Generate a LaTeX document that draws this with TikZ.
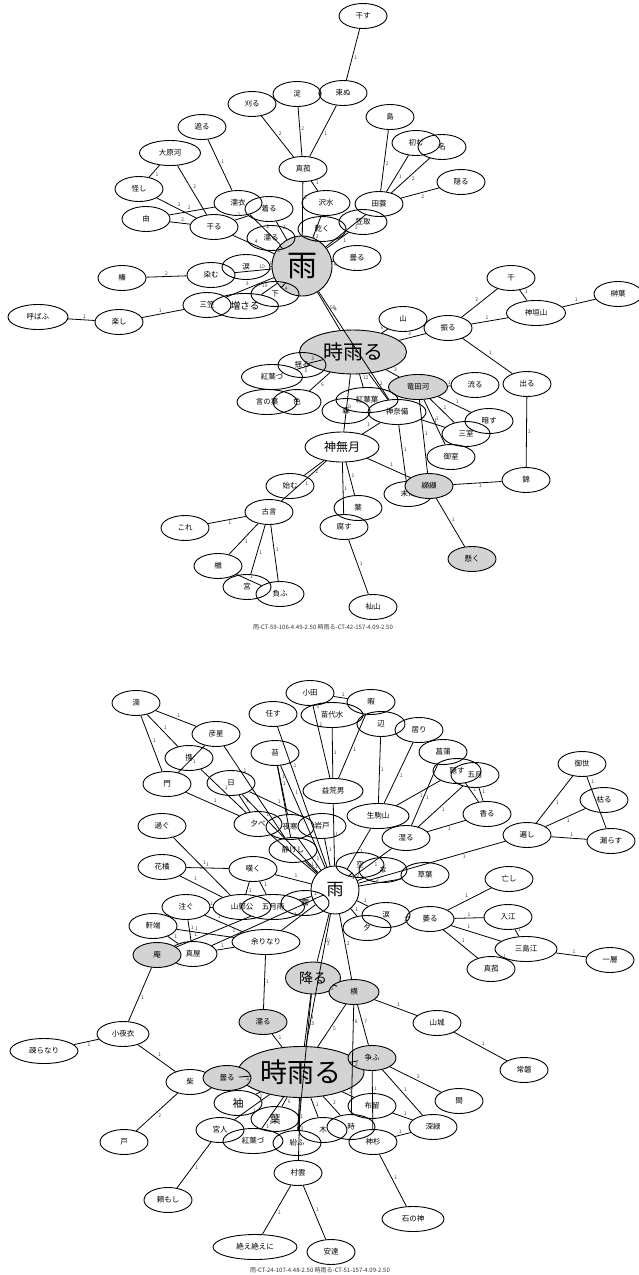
\documentclass[tikz,border=0pt]{standalone}
\usepackage{fontspec}
\setmainfont{Noto Sans CJK JP}
\usetikzlibrary{shapes.geometric}
\definecolor{nodegray}{RGB}{211,211,211}
\tikzset{
 nd/.style={ellipse, draw, line width=0.9pt, minimum width=48pt, minimum height=25pt, inner sep=0.5pt, font=\fontsize{7.5}{8}\selectfont},
 gr/.style={nd, fill=nodegray},
 edge/.style={line width=0.8pt},
 lab/.style={font=\fontsize{5}{5}\selectfont, text=black!75, inner sep=1pt, auto},
 captxt/.style={font=\fontsize{6}{6}\selectfont, text=black!80},
}
\newcommand\lk[4][0.5]{\draw[edge] (#2) -- node[lab,pos=#1]{#4} (#3);}
\begin{document}
\begin{tikzpicture}[x=1pt,y=-1pt]
\useasboundingbox[fill=white] (0,0) rectangle (639,1275);
% ---------------- top graph ----------------
\node[gr, circle, minimum size=60pt, font=\fontsize{30}{30}\selectfont] (ame) at (302,266) {雨};
\node[gr, minimum width=107pt, minimum height=44pt, font=\fontsize{20}{20}\selectfont] (shigure) at (353,352) {時雨る};
\node[nd] (hosu) at (363,16) {干す};
\node[nd] (tsukanu) at (343,93) {束ぬ};
\node[nd] (yodo) at (297,94) {淀};
\node[nd] (karu) at (252,104) {刈る};
\node[nd] (saegiru) at (202,127) {遮る};
\node[nd, minimum width=61pt] (oharagawa) at (170,153) {大原河};
\node[nd] (ayashi) at (139,189) {怪し};
\node[nd] (makomo) at (303,169) {真菰};
\node[nd] (nureginu) at (238,203) {濡衣};
\node[nd] (kiru) at (269,209) {着る};
\node[nd] (yoshi) at (146,219) {由};
\node[nd] (hiru) at (214,227) {干る};
\node[nd] (nuru) at (271,238) {濡る};
\node[nd] (sawamizu) at (326,203) {沢水};
\node[nd] (tamino) at (379,204) {田蓑};
\node[nd] (shima) at (390,117) {島};
\node[nd] (someru) at (416,143) {初む};
\node[nd] (na) at (442,147) {名};
\node[nd] (kakuru) at (461,182) {隠る};
\node[nd] (kasatori) at (363,222) {笠取};
\node[nd] (kawaku) at (322,229) {乾く};
\node[nd] (kumoru) at (357,258) {曇る};
\node[nd] (namida) at (246,267) {涙};
\node[nd] (somu) at (211,275) {染む};
\node[nd] (hari) at (122,278) {榛};
\node[nd] (shita) at (275,294) {下};
\node[nd, minimum width=67pt, font=\fontsize{9.5}{10}\selectfont] (masaru) at (245,306) {増さる};
\node[nd] (mikasa) at (207,305) {三笠};
\node[nd] (tanoshi) at (119,322) {楽し};
\node[nd, minimum width=60pt] (yobau) at (38,317) {呼ばふ};
\node[nd] (chi) at (511,278) {千};
\node[nd, minimum width=59pt] (kamigaki) at (536,313) {神垣山};
\node[nd] (sakaki) at (618,294) {榊葉};
\node[nd] (yama) at (403,319) {山};
\node[nd] (furu) at (448,328) {振る};
\node[nd] (izuru) at (527,384) {出る};
\node[gr, minimum width=59pt] (tatsuta) at (418,387) {竜田河};
\node[nd] (nagaru) at (475,385) {流る};
\node[nd, minimum width=62pt] (momijiba) at (367,400) {紅葉葉};
\node[nd, minimum width=58pt] (kannabi) at (397,412) {神奈備};
\node[nd] (kurasu) at (489,421) {暗す};
\node[nd] (mimuro) at (466,434) {三室};
\node[nd] (mimurob) at (451,457) {御室};
\node[nd] (nishiki) at (526,480) {錦};
\node[nd] (imada) at (408,494) {未だ};
\node[gr] (kokechi) at (429,486) {纐纈};
\node[gr] (kaku) at (472,559) {懸く};
\node[nd] (ha) at (358,508) {葉};
\node[nd] (kutasu) at (344,527) {腐す};
\node[nd] (soma) at (373,607) {杣山};
\node[nd, minimum width=74pt, minimum height=30pt, font=\fontsize{12}{12}\selectfont] (kannazuki) at (342,447) {神無月};
\node[nd] (mori) at (346,411) {森};
\node[nd] (yuru) at (302,365) {揺る};
\node[nd, minimum width=61pt] (momizu) at (272,377) {紅葉づ};
\node[nd, minimum width=60pt] (kotonoha) at (267,402) {言の葉};
\node[nd] (iro) at (297,402) {色};
\node[nd] (hajimu) at (290,486) {始む};
\node[nd] (furukoto) at (269,512) {古言};
\node[nd] (kore) at (185,528) {これ};
\node[nd] (nara) at (218,566) {楢};
\node[nd] (miya) at (247,587) {宮};
\node[nd] (ou) at (280,594) {負ふ};
\node[captxt] (cap1) at (323,627) {雨-CT-59-106-4.49-2.50 時雨る-CT-42-157-4.09-2.50};

\lk{hosu}{tsukanu}{1}
\lk{yodo}{tsukanu}{1}
\lk{tsukanu}{makomo}{1}
\lk{yodo}{makomo}{2}
\lk{karu}{makomo}{2}
\lk[0.3]{makomo}{ame}{2}
\lk{makomo}{sawamizu}{1}
\lk{saegiru}{nureginu}{1}
\lk{oharagawa}{ayashi}{1}
\lk{oharagawa}{hiru}{2}
\lk{ayashi}{hiru}{2}
\lk{yoshi}{nureginu}{2}
\lk{yoshi}{hiru}{2}
\lk{hiru}{kiru}{2}
\lk{hiru}{ame}{4}
\lk{nureginu}{ame}{2}
\lk{kiru}{ame}{3}
\lk{nuru}{ame}{3}
\lk[0.8]{sawamizu}{ame}{3}
\lk[0.8]{kawaku}{ame}{3}
\lk[0.3]{tamino}{ame}{2}
\lk[0.3]{kasatori}{ame}{1}
\lk{shima}{tamino}{2}
\lk{someru}{tamino}{1}
\lk{na}{tamino}{2}
\lk{kakuru}{tamino}{2}
\lk{kumoru}{ame}{4}
\lk[0.7]{namida}{ame}{6}
\lk[0.85]{somu}{ame}{10}
\lk{hari}{somu}{2}
\lk{shita}{ame}{4}
\lk{masaru}{ame}{10}
\lk{mikasa}{ame}{3}
\lk{tanoshi}{mikasa}{1}
\lk{yobau}{tanoshi}{1}
\lk{ame}{shigure}{58}
\lk[0.2]{ame}{kannabi}{4}
\lk{shigure}{yama}{6}
\lk{shigure}{furu}{3}
\lk{furu}{chi}{2}
\lk{furu}{kamigaki}{1}
\lk{chi}{kamigaki}{1}
\lk{kamigaki}{sakaki}{1}
\lk{furu}{izuru}{1}
\lk{izuru}{nishiki}{1}
\lk{nishiki}{kokechi}{1}
\lk{kokechi}{kaku}{1}
\lk{shigure}{tatsuta}{3}
\lk{tatsuta}{nagaru}{1}
\lk{tatsuta}{kurasu}{1}
\lk{tatsuta}{mimuro}{1}
\lk{tatsuta}{mimurob}{1}
\lk{tatsuta}{kokechi}{1}
\lk{kannabi}{mimuro}{1}
\lk{kannabi}{imada}{1}
\lk{kannazuki}{kokechi}{1}
\lk{kannazuki}{kannabi}{1}
\lk{kannazuki}{hajimu}{2}
\lk{kannazuki}{furukoto}{1}
\lk{kannazuki}{ha}{1}
\lk{kannazuki}{kutasu}{1}
\lk{kutasu}{soma}{1}
\lk{furukoto}{kore}{1}
\lk{furukoto}{nara}{1}
\lk{furukoto}{miya}{1}
\lk{furukoto}{ou}{1}
\lk{nara}{ou}{1}
\lk{shigure}{yuru}{3}
\lk{shigure}{momizu}{5}
\lk{shigure}{iro}{6}
\lk{shigure}{kannazuki}{9}
\lk{shigure}{momijiba}{12}
\lk{shigure}{kannabi}{2}

% ---------------- bottom graph ----------------
\node[nd, circle, minimum size=48pt, font=\fontsize{17}{17}\selectfont] (bame) at (335,890) {雨};
\node[gr, minimum width=126pt, minimum height=51pt, font=\fontsize{27}{27}\selectfont] (bshigure) at (301,1072) {時雨る};
\node[nd] (shizuku) at (136,703) {滴};
\node[nd] (hikoboshi) at (216,734) {彦星};
\node[nd] (tazusa) at (189,758) {携};
\node[nd] (kado) at (167,784) {門};
\node[nd] (hi) at (231,783) {日};
\node[nd] (sugu) at (162,826) {過ぐ};
\node[nd] (yuube) at (258,824) {夕べ};
\node[nd] (yosamu) at (290,827) {夜寒};
\node[nd] (iwato) at (322,826) {岩戸};
\node[nd] (shizukeshi) at (293,850) {静けし};
\node[nd] (makasu) at (273,714) {任す};
\node[nd] (oda) at (310,693) {小田};
\node[nd, minimum width=62pt] (nawashiro) at (332,715) {苗代水};
\node[nd] (itoma) at (371,702) {暇};
\node[nd] (hen) at (381,724) {辺};
\node[nd] (ori) at (419,730) {居り};
\node[nd] (ayame) at (443,752) {菖蒲};
\node[nd] (kakusu) at (457,771) {隠す};
\node[nd] (satsuki) at (475,775) {五月};
\node[nd] (miyo) at (582,764) {御世};
\node[nd] (karub) at (604,800) {枯る};
\node[nd] (morasu) at (611,841) {漏らす};
\node[nd] (amaneshi) at (527,835) {遍し};
\node[nd] (kaoru) at (487,814) {香る};
\node[nd] (shimeru) at (406,838) {湿る};
\node[nd, minimum width=62pt] (ikoma) at (378,816) {生駒山};
\node[nd, minimum width=60pt] (masurao) at (333,791) {益荒男};
\node[nd] (koke) at (275,753) {苔};
\node[nd] (hanatachi) at (162,867) {花橘};
\node[nd] (nageku) at (253,869) {嘆く};
\node[nd] (sosogu) at (186,907) {注ぐ};
\node[nd, minimum width=58pt] (hototogisu) at (242,907) {山郭公};
\node[nd, minimum width=63pt] (samidare) at (273,907) {五月雨};
\node[nd] (kiri) at (305,903) {霧};
\node[nd] (nokiba) at (153,926) {軒端};
\node[nd] (maya) at (193,954) {真屋};
\node[gr] (io) at (157,955) {庵};
\node[nd, minimum width=68pt] (amari) at (266,942) {余りなり};
\node[gr, minimum width=55pt, minimum height=32pt, font=\fontsize{14}{14}\selectfont] (furub) at (313,978) {降る};
\node[gr] (nurub) at (263,1022) {濡る};
\node[nd, minimum width=52pt] (sayogoromo) at (123,1034) {小夜衣};
\node[gr, minimum width=50pt] (yoko) at (354,992) {横};
\node[nd] (sora) at (360,865) {空};
\node[nd] (nana) at (383,870) {な};
\node[nd] (kusaba) at (425,875) {草葉};
\node[nd] (bnamida) at (386,915) {涙};
\node[nd] (yu) at (367,928) {夕};
\node[nd] (shioru) at (430,919) {萎る};
\node[nd] (nashi) at (509,879) {亡し};
\node[nd] (irie) at (508,917) {入江};
\node[nd, minimum width=62pt] (mishimae) at (526,949) {三島江};
\node[nd] (hitoshio) at (610,960) {一層};
\node[nd] (bmakomo) at (491,969) {真菰};
\node[nd] (yamashiro) at (437,1023) {山城};
\node[nd] (tokiwa) at (524,1070) {常磐};
\node[nd, minimum width=68pt] (mabara) at (44,1051) {疎らなり};
\node[nd] (shiba) at (190,1082) {柴};
\node[gr] (bkumoru) at (227,1078) {曇る};
\node[nd, font=\fontsize{11}{11}\selectfont] (sode) at (238,1103) {袖};
\node[nd, font=\fontsize{11}{11}\selectfont] (bha) at (275,1119) {葉};
\node[nd] (to) at (124,1142) {戸};
\node[nd] (miyabito) at (220,1130) {宮人};
\node[nd, minimum width=60pt] (bmomizu) at (253,1141) {紅葉づ};
\node[nd] (magau) at (297,1143) {紛ふ};
\node[nd] (murakumo) at (298,1173) {村雲};
\node[nd] (tanomoshi) at (168,1200) {頼もし};
\node[nd, minimum width=84pt] (taedae) at (255,1247) {絶え絶えに};
\node[nd] (adachi) at (331,1252) {安達};
\node[gr] (arasou) at (372,1058) {争ふ};
\node[nd] (aida) at (459,1101) {間};
\node[nd] (furuc) at (372,1106) {布留};
\node[nd] (fukamidori) at (433,1127) {深緑};
\node[nd] (ki) at (323,1130) {木};
\node[nd] (toki) at (351,1127) {時};
\node[nd] (kamisugi) at (373,1142) {神杉};
\node[nd, minimum width=62pt] (isonokami) at (413,1219) {石の神};
\node[captxt] (cap2) at (320,1270) {雨-CT-24-107-4.48-2.50 時雨る-CT-51-157-4.09-2.50};

\lk{shizuku}{hikoboshi}{1}
\lk{shizuku}{tazusa}{1}
\lk{shizuku}{kado}{1}
\lk{hikoboshi}{kado}{1}
\lk[0.3]{hikoboshi}{shizukeshi}{1}
\lk{tazusa}{yuube}{1}
\lk{kado}{yuube}{1}
\lk{hi}{yuube}{1}
\lk{hi}{iwato}{1}
\lk[0.3]{hi}{bame}{1}
\lk[0.3]{makasu}{bame}{1}
\lk[0.3]{koke}{shizukeshi}{1}
\lk[0.3]{koke}{yosamu}{1}
\lk[0.3]{koke}{bame}{1}
\lk{oda}{nawashiro}{1}
\lk{oda}{itoma}{1}
\lk[0.3]{oda}{masurao}{1}
\lk{nawashiro}{masurao}{1}
\lk{itoma}{masurao}{1}
\lk{masurao}{bame}{1}
\lk{hen}{ikoma}{1}
\lk{ori}{ikoma}{1}
\lk{kakusu}{ikoma}{1}
\lk{ayame}{shimeru}{1}
\lk{satsuki}{shimeru}{1}
\lk{satsuki}{kaoru}{1}
\lk{kakusu}{kaoru}{1}
\lk{kaoru}{shimeru}{1}
\lk{miyo}{amaneshi}{1}
\lk[0.15]{miyo}{morasu}{1}
\lk{karub}{amaneshi}{1}
\lk{amaneshi}{morasu}{1}
\lk[0.3]{amaneshi}{bame}{1}
\lk{ikoma}{bame}{1}
\lk{shimeru}{bame}{1}
\lk[0.85]{yuube}{bame}{1}
\lk[0.75]{yosamu}{bame}{1}
\lk{iwato}{bame}{1}
\lk[0.7]{shizukeshi}{bame}{1}
\lk{sugu}{hototogisu}{1}
\lk{hanatachi}{nageku}{1}
\lk[0.3]{hanatachi}{hototogisu}{1}
\lk{nageku}{bame}{1}
\lk{nageku}{samidare}{1}
\lk{nageku}{hototogisu}{1}
\lk{sosogu}{hototogisu}{1}
\lk[0.3]{sosogu}{amari}{1}
\lk{sosogu}{maya}{1}
\lk[0.3]{nokiba}{amari}{1}
\lk{nokiba}{maya}{1}
\lk[0.3]{io}{samidare}{1}
\lk{maya}{amari}{1}
\lk[0.25]{maya}{bame}{1}
\lk{amari}{bame}{1}
\lk{amari}{nurub}{1}
\lk{io}{sayogoromo}{1}
\lk{sayogoromo}{mabara}{1}
\lk{sayogoromo}{shiba}{1}
\lk{shiba}{to}{2}
\lk{bkumoru}{bshigure}{4}
\lk{nurub}{bshigure}{1}
\lk{bame}{furub}{10}
\lk[0.2]{bame}{bshigure}{3}
\lk{bame}{yoko}{2}
\lk{bame}{bnamida}{1}
\lk{bame}{yu}{1}
\lk{bame}{kusaba}{2}
\lk{bame}{sora}{1}
\lk{bame}{nana}{2}
\lk{bame}{kiri}{1}
\lk{bame}{samidare}{2}
\lk{furub}{yoko}{2}
\lk{furub}{bshigure}{15}
\lk[0.15]{furub}{magau}{4}
\lk{yoko}{bshigure}{5}
\lk[0.15]{yoko}{toki}{8}
\lk{yoko}{arasou}{7}
\lk{yoko}{yamashiro}{1}
\lk{yamashiro}{tokiwa}{1}
\lk{bnamida}{shioru}{1}
\lk{shioru}{nashi}{1}
\lk{shioru}{irie}{1}
\lk[0.3]{shioru}{mishimae}{1}
\lk{shioru}{bmakomo}{1}
\lk{irie}{mishimae}{1}
\lk{mishimae}{bmakomo}{1}
\lk{mishimae}{hitoshio}{1}
\lk{bshigure}{arasou}{2}
\lk{arasou}{aida}{2}
\lk{arasou}{fukamidori}{1}
\lk[0.3]{arasou}{kamisugi}{1}
\lk{furuc}{fukamidori}{1}
\lk{kamisugi}{fukamidori}{1}
\lk{kamisugi}{isonokami}{1}
\lk{bshigure}{furuc}{2}
\lk{bshigure}{toki}{2}
\lk{bshigure}{ki}{1}
\lk{bshigure}{sode}{2}
\lk[0.1]{bshigure}{bha}{6}
\lk{bshigure}{miyabito}{1}
\lk[0.85]{bshigure}{bmomizu}{1}
\lk{bshigure}{magau}{1}
\lk{bshigure}{murakumo}{3}
\lk{miyabito}{tanomoshi}{1}
\lk{murakumo}{taedae}{1}
\lk{murakumo}{adachi}{1}
\end{tikzpicture}
\end{document}
